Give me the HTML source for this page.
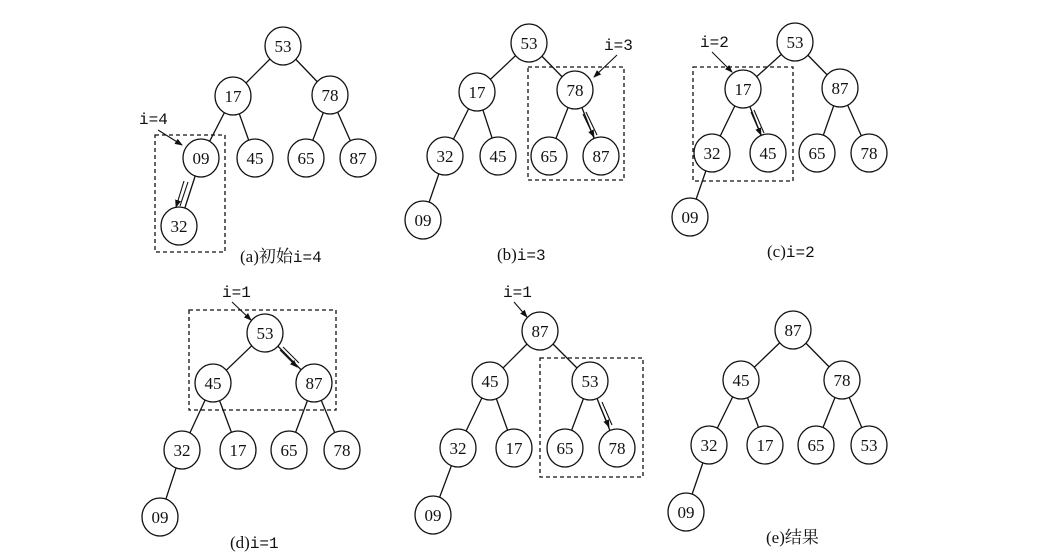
<!DOCTYPE html>
<html><head><meta charset="utf-8"><style>
html,body{margin:0;padding:0;background:#fff;}
svg{display:block;}
text{font-family:"Liberation Serif","Noto Serif CJK SC",serif;font-size:17px;fill:#111;}
.m{font-family:"Liberation Mono","Noto Sans CJK SC",monospace;font-size:16px;}
</style></head><body>
<svg width="1051" height="557" viewBox="0 0 1051 557" xmlns="http://www.w3.org/2000/svg">
<defs><marker id="ah" markerWidth="8" markerHeight="8" refX="7" refY="4" orient="auto" markerUnits="userSpaceOnUse"><path d="M0,1 L8,4 L0,7 Z" fill="#111"/></marker></defs>
<g stroke="#111" stroke-width="1.3" fill="none">
<!-- a -->
<line x1="283" y1="46" x2="233" y2="96"/><line x1="283" y1="46" x2="330" y2="95"/>
<line x1="233" y1="96" x2="201" y2="158"/><line x1="233" y1="96" x2="255" y2="158"/>
<line x1="330" y1="95" x2="306" y2="158"/><line x1="330" y1="95" x2="358" y2="158"/>
<line x1="201" y1="158" x2="179" y2="226"/>
<!-- b -->
<line x1="529" y1="43" x2="477" y2="92"/><line x1="529" y1="43" x2="575" y2="90"/>
<line x1="477" y1="92" x2="445" y2="156"/><line x1="477" y1="92" x2="498" y2="156"/>
<line x1="575" y1="90" x2="549" y2="156"/><line x1="575" y1="90" x2="601" y2="156"/>
<line x1="445" y1="156" x2="423" y2="220"/>
<!-- c -->
<line x1="795" y1="42" x2="743" y2="89"/><line x1="795" y1="42" x2="840" y2="88"/>
<line x1="743" y1="89" x2="712" y2="153"/><line x1="743" y1="89" x2="768" y2="153"/>
<line x1="840" y1="88" x2="817" y2="153"/><line x1="840" y1="88" x2="869" y2="153"/>
<line x1="712" y1="153" x2="690" y2="217"/>
<!-- d -->
<line x1="265" y1="333" x2="213" y2="383"/><line x1="265" y1="333" x2="314" y2="383"/>
<line x1="213" y1="383" x2="182" y2="450"/><line x1="213" y1="383" x2="238" y2="450"/>
<line x1="314" y1="383" x2="289" y2="450"/><line x1="314" y1="383" x2="342" y2="450"/>
<line x1="182" y1="450" x2="160" y2="517"/>
<!-- e1 -->
<line x1="540" y1="331" x2="490" y2="381"/><line x1="540" y1="331" x2="590" y2="381"/>
<line x1="490" y1="381" x2="458" y2="448"/><line x1="490" y1="381" x2="514" y2="448"/>
<line x1="590" y1="381" x2="565" y2="448"/><line x1="590" y1="381" x2="617" y2="448"/>
<line x1="458" y1="448" x2="433" y2="515"/>
<!-- e2 -->
<line x1="793" y1="330" x2="741" y2="380"/><line x1="793" y1="330" x2="842" y2="380"/>
<line x1="741" y1="380" x2="709" y2="445"/><line x1="741" y1="380" x2="765" y2="445"/>
<line x1="842" y1="380" x2="816" y2="445"/><line x1="842" y1="380" x2="869" y2="445"/>
<line x1="709" y1="445" x2="686" y2="512"/>
</g>
<!-- dashed boxes -->
<g stroke="#111" stroke-width="1.3" fill="none" stroke-dasharray="4,3">
<rect x="155" y="135" width="70" height="117"/>
<rect x="528" y="67" width="96" height="113"/>
<rect x="693" y="67" width="100" height="114"/>
<rect x="189" y="310" width="147" height="100"/>
<rect x="540" y="358" width="103" height="119"/>
</g>
<!-- i= arrows -->
<g stroke="#111" stroke-width="1.1" fill="none" marker-end="url(#ah)">
<line x1="158" y1="130" x2="182" y2="145"/>
<line x1="617" y1="55" x2="594" y2="77"/>
<line x1="712" y1="52" x2="732" y2="72"/>
<line x1="232" y1="302" x2="251" y2="320"/>
<line x1="514" y1="302" x2="527" y2="317"/>
</g>
<!-- double arrows -->
<g stroke="#111" stroke-width="1.1" fill="none">
<line x1="188" y1="182" x2="180" y2="206"/>
<line x1="184" y1="181" x2="176" y2="207" marker-end="url(#ah)"/>
<line x1="586" y1="112" x2="597" y2="135"/>
<line x1="583" y1="114" x2="594" y2="137" marker-end="url(#ah)"/>
<line x1="754" y1="110" x2="764" y2="133"/>
<line x1="751" y1="112" x2="761" y2="135" marker-end="url(#ah)"/>
<line x1="283" y1="347" x2="299" y2="363"/>
<line x1="280" y1="350" x2="297" y2="367" marker-end="url(#ah)"/>
<line x1="602" y1="402" x2="612" y2="425"/>
<line x1="599" y1="404" x2="609" y2="427" marker-end="url(#ah)"/>
</g>
<!-- nodes -->
<g stroke="#111" stroke-width="1.3" fill="#fff">
<ellipse cx="283" cy="46" rx="18" ry="19"/><ellipse cx="233" cy="96" rx="18" ry="19"/><ellipse cx="330" cy="95" rx="18" ry="19"/>
<ellipse cx="201" cy="158" rx="18" ry="19"/><ellipse cx="255" cy="158" rx="18" ry="19"/><ellipse cx="306" cy="158" rx="18" ry="19"/><ellipse cx="358" cy="158" rx="18" ry="19"/><ellipse cx="179" cy="226" rx="18" ry="19"/>
<ellipse cx="529" cy="43" rx="18" ry="19"/><ellipse cx="477" cy="92" rx="18" ry="19"/><ellipse cx="575" cy="90" rx="18" ry="19"/>
<ellipse cx="445" cy="156" rx="18" ry="19"/><ellipse cx="498" cy="156" rx="18" ry="19"/><ellipse cx="549" cy="156" rx="18" ry="19"/><ellipse cx="601" cy="156" rx="18" ry="19"/><ellipse cx="423" cy="220" rx="18" ry="19"/>
<ellipse cx="795" cy="42" rx="18" ry="19"/><ellipse cx="743" cy="89" rx="18" ry="19"/><ellipse cx="840" cy="88" rx="18" ry="19"/>
<ellipse cx="712" cy="153" rx="18" ry="19"/><ellipse cx="768" cy="153" rx="18" ry="19"/><ellipse cx="817" cy="153" rx="18" ry="19"/><ellipse cx="869" cy="153" rx="18" ry="19"/><ellipse cx="690" cy="217" rx="18" ry="19"/>
<ellipse cx="265" cy="333" rx="18" ry="19"/><ellipse cx="213" cy="383" rx="18" ry="19"/><ellipse cx="314" cy="383" rx="18" ry="19"/>
<ellipse cx="182" cy="450" rx="18" ry="19"/><ellipse cx="238" cy="450" rx="18" ry="19"/><ellipse cx="289" cy="450" rx="18" ry="19"/><ellipse cx="342" cy="450" rx="18" ry="19"/><ellipse cx="160" cy="517" rx="18" ry="19"/>
<ellipse cx="540" cy="331" rx="18" ry="19"/><ellipse cx="490" cy="381" rx="18" ry="19"/><ellipse cx="590" cy="381" rx="18" ry="19"/>
<ellipse cx="458" cy="448" rx="18" ry="19"/><ellipse cx="514" cy="448" rx="18" ry="19"/><ellipse cx="565" cy="448" rx="18" ry="19"/><ellipse cx="617" cy="448" rx="18" ry="19"/><ellipse cx="433" cy="515" rx="18" ry="19"/>
<ellipse cx="793" cy="330" rx="18" ry="19"/><ellipse cx="741" cy="380" rx="18" ry="19"/><ellipse cx="842" cy="380" rx="18" ry="19"/>
<ellipse cx="709" cy="445" rx="18" ry="19"/><ellipse cx="765" cy="445" rx="18" ry="19"/><ellipse cx="816" cy="445" rx="18" ry="19"/><ellipse cx="869" cy="445" rx="18" ry="19"/><ellipse cx="686" cy="512" rx="18" ry="19"/>
</g>
<g text-anchor="middle">
<text x="283" y="52">53</text><text x="233" y="102">17</text><text x="330" y="101">78</text>
<text x="201" y="164">09</text><text x="255" y="164">45</text><text x="306" y="164">65</text><text x="358" y="164">87</text><text x="179" y="232">32</text>
<text x="529" y="49">53</text><text x="477" y="98">17</text><text x="575" y="96">78</text>
<text x="445" y="162">32</text><text x="498" y="162">45</text><text x="549" y="162">65</text><text x="601" y="162">87</text><text x="423" y="226">09</text>
<text x="795" y="48">53</text><text x="743" y="95">17</text><text x="840" y="94">87</text>
<text x="712" y="159">32</text><text x="768" y="159">45</text><text x="817" y="159">65</text><text x="869" y="159">78</text><text x="690" y="223">09</text>
<text x="265" y="339">53</text><text x="213" y="389">45</text><text x="314" y="389">87</text>
<text x="182" y="456">32</text><text x="238" y="456">17</text><text x="289" y="456">65</text><text x="342" y="456">78</text><text x="160" y="523">09</text>
<text x="540" y="337">87</text><text x="490" y="387">45</text><text x="590" y="387">53</text>
<text x="458" y="454">32</text><text x="514" y="454">17</text><text x="565" y="454">65</text><text x="617" y="454">78</text><text x="433" y="521">09</text>
<text x="793" y="336">87</text><text x="741" y="386">45</text><text x="842" y="386">78</text>
<text x="709" y="451">32</text><text x="765" y="451">17</text><text x="816" y="451">65</text><text x="869" y="451">53</text><text x="686" y="518">09</text>
</g>
<text class="m" x="139" y="124">i=4</text>
<text class="m" x="604" y="50">i=3</text>
<text class="m" x="700" y="47">i=2</text>
<text class="m" x="222" y="297">i=1</text>
<text class="m" x="503" y="297">i=1</text>
<text x="240" y="262">(a)初始<tspan class="m">i=4</tspan></text>
<text x="497" y="260">(b)<tspan class="m">i=3</tspan></text>
<text x="767" y="257">(c)<tspan class="m">i=2</tspan></text>
<text x="230" y="548">(d)<tspan class="m">i=1</tspan></text>
<text x="766" y="543">(e)结果</text>
</svg>
</body></html>
